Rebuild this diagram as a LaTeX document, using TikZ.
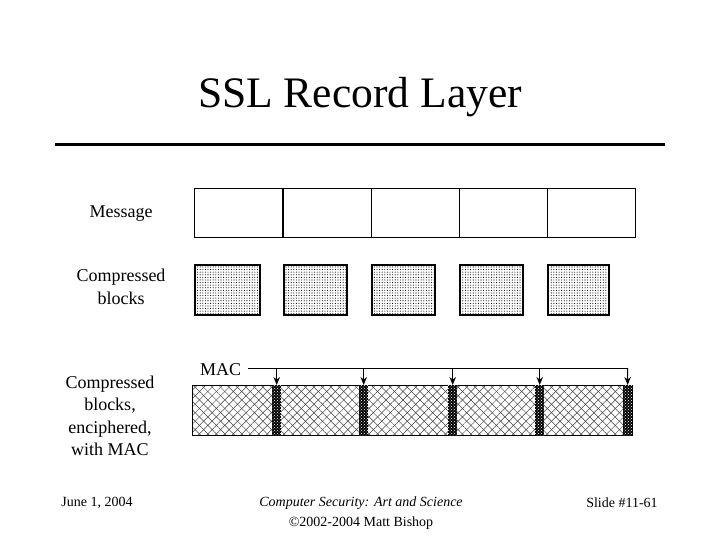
\documentclass[tikz,border=0pt]{standalone}
\usepackage{fontspec}
\setmainfont{Liberation Serif}
\usetikzlibrary{patterns,patterns.meta,arrows.meta}
\begin{document}
\begin{tikzpicture}[x=1pt,y=-1pt,
  lbl/.style={font=\fontsize{18}{22.5}\selectfont, align=center, inner sep=0pt},
  foot/.style={font=\fontsize{14}{20}\selectfont, align=center, inner sep=0pt},
  cell/.style={draw, line width=1pt},
  cblock/.style={draw, line width=1.6pt, pattern={Dots[distance=2.6pt,radius=0.55pt]}},
  macarrow/.style={line width=1pt, -{Stealth[length=8pt,width=6.5pt]}}
]
\useasboundingbox (0,0) rectangle (720,540);
% title
\node[font=\fontsize{43.5}{50}\selectfont, inner sep=0pt] (title) at (360,97) {SSL Record Layer};
\draw[line width=3pt] (55,145) -- (665,145);
% message row
\node[lbl] (msg) at (121,214) {Message};
\foreach \i/\x in {1/194,2/283,3/371,4/459,5/547}{
  \node[cell, minimum width=88pt, minimum height=49pt, inner sep=0pt, anchor=north west] (m\i) at (\x,188) {};
}
% compressed
\node[lbl] (comp) at (121,287) {Compressed\\blocks};
\foreach \i/\x/\w in {1/194/65,2/283/63,3/371/63,4/459/63,5/547/61}{
  \node[cblock, minimum width=\w pt, minimum height=50pt, inner sep=0pt, anchor=north west] (c\i) at (\x,264) {};
}
% enciphered bar
\node[lbl] (enc) at (110,416) {Compressed\\blocks,\\enciphered,\\with MAC};
\node[draw, line width=1pt, pattern={Lines[angle=45,distance=6pt,line width=0.5pt]}, pattern color=black!75, minimum width=440pt, minimum height=50pt, inner sep=0pt, anchor=north west] (bar) at (192,385) {};
\fill[pattern={Lines[angle=-45,distance=6pt,line width=0.5pt]}, pattern color=black!75] (bar.north west) rectangle (bar.south east);
\draw[line width=1pt] (bar.north west) rectangle (bar.south east);
\foreach \i/\x in {1/272,2/359,3/448,4/535,5/623}{
  \node[fill=black, minimum width=9pt, minimum height=50pt, inner sep=0pt, anchor=north west] (s\i) at (\x,385) {};
  \fill[pattern=crosshatch dots, pattern color=white] (s\i.north west) rectangle (s\i.south east);
}
\node[lbl, anchor=west] (mac) at (200,370) {MAC};
\coordinate (macstart) at (248,368);
\coordinate (macend) at (627.5,368);
\draw[line width=1pt] (macstart) -- (macend);
\foreach \i in {1,...,4}{
  \draw[macarrow] (s\i.north |- macend) -- (s\i.north);
}
\draw[macarrow] (macend) -- (s5.north);
% footer
\node[foot] (date) at (97,503) {June 1, 2004};
\node[foot] (book) at (361,513) {\textit{Computer Security: Art and Science}\\©2002-2004 Matt Bishop};
\node[foot] (slide) at (622,503) {Slide \#11-61};
\end{tikzpicture}
\end{document}
